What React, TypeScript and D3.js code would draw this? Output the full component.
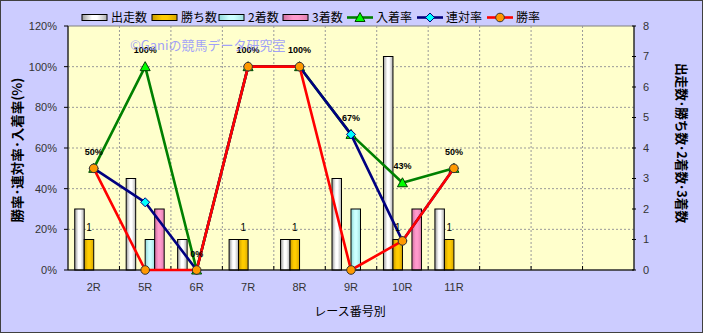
import React from "react";
import * as d3 from "d3";

const categories = ["2R", "5R", "6R", "7R", "8R", "9R", "10R", "11R", "", "", ""];
const starts = [2, 3, 1, 1, 1, 3, 7, 2];
const wins = [1, 0, 0, 1, 1, 0, 1, 1];
const seconds = [0, 1, 0, 0, 0, 2, 0, 0];
const thirds = [0, 2, 0, 0, 0, 0, 2, 0];
const placeRate = [50, 100, 0, 100, 100, 66.7, 42.9, 50];
const top2Rate = [50, 33.3, 0, 100, 100, 66.7, 14.3, 50];
const winRate = [50, 0, 0, 100, 100, 0, 14.3, 50];
const placeLabels = ["50%", "100%", "0%", "100%", "100%", "67%", "43%", "50%"];
const leftTicks = [0, 20, 40, 60, 80, 100, 120];
const rightTicks = [0, 1, 2, 3, 4, 5, 6, 7, 8];

const W = 703, H = 333;
const L = 68, R = 634, T = 26, B = 270;
const FONT = '"Liberation Sans", "Noto Sans CJK JP", sans-serif';
const JFONT = '"Noto Sans CJK JP", "Liberation Sans", sans-serif';

const barSeries = [
  { name: "出走数", data: starts, grad: "gWhite" },
  { name: "勝ち数", data: wins, grad: "gYellow" },
  { name: "2着数", data: seconds, grad: "gCyan" },
  { name: "3着数", data: thirds, grad: "gPink" },
];
const lineSeries = [
  { name: "入着率", data: placeRate, color: "#008000", marker: "tri" },
  { name: "連対率", data: top2Rate, color: "#000080", marker: "dia" },
  { name: "勝率", data: winRate, color: "#FF0000", marker: "circ" },
];

function Marker({ kind, x, y }: { kind: string; x: number; y: number }) {
  if (kind === "tri") {
    return <path d={`M${x},${y - 5} L${x + 5},${y + 4} L${x - 5},${y + 4} Z`} fill="#00FF00" stroke="#004000" strokeWidth={1} />;
  }
  if (kind === "dia") {
    return <path d={`M${x},${y - 4.5} L${x + 4.5},${y} L${x},${y + 4.5} L${x - 4.5},${y} Z`} fill="#00FFFF" stroke="#000080" strokeWidth={1} />;
  }
  return <circle cx={x} cy={y} r={4.3} fill="#FF9900" stroke="#333" strokeWidth={1} />;
}

export default function App() {
  const x = d3.scaleBand<number>().domain(d3.range(categories.length)).range([L, R]);
  const bw = x.bandwidth();
  const inner = d3.scaleBand<number>().domain(d3.range(4)).range([-19, 19]);
  const yL = d3.scaleLinear().domain([0, 120]).range([B, T]);
  const yR = d3.scaleLinear().domain([0, 8]).range([B, T]);
  const cx = (i: number) => (x(i) as number) + bw / 2;
  const line = d3.line<number>().x((_, i) => cx(i)).y((d) => yL(d));

  const legendBars = [82, 152, 219, 283];
  const legendLines = [347, 417, 487];

  return (
    <div style={{ position: "fixed", left: 0, top: 0 }}>
      <svg width={W} height={H} style={{ display: "block" }}>
        <defs>
          <linearGradient id="gWhite" x1="0" x2="1" y1="0" y2="0">
            <stop offset="0" stopColor="#9a9a9a" />
            <stop offset="0.4" stopColor="#ffffff" />
            <stop offset="0.6" stopColor="#ffffff" />
            <stop offset="1" stopColor="#b0b0b0" />
          </linearGradient>
          <linearGradient id="gYellow" x1="0" x2="1" y1="0" y2="0">
            <stop offset="0" stopColor="#c89b00" />
            <stop offset="0.4" stopColor="#ffcc00" />
            <stop offset="0.6" stopColor="#ffcc00" />
            <stop offset="1" stopColor="#d8a800" />
          </linearGradient>
          <linearGradient id="gCyan" x1="0" x2="1" y1="0" y2="0">
            <stop offset="0" stopColor="#8fd8d8" />
            <stop offset="0.4" stopColor="#ccffff" />
            <stop offset="0.6" stopColor="#ccffff" />
            <stop offset="1" stopColor="#a0e0e0" />
          </linearGradient>
          <linearGradient id="gPink" x1="0" x2="1" y1="0" y2="0">
            <stop offset="0" stopColor="#d070a0" />
            <stop offset="0.4" stopColor="#ff99cc" />
            <stop offset="0.6" stopColor="#ff99cc" />
            <stop offset="1" stopColor="#e080b0" />
          </linearGradient>
        </defs>
        <rect x={0.5} y={0.5} width={W - 1} height={H - 1} fill="#CCCCFF" stroke="#404040" strokeWidth={1} />
        <rect x={L} y={T} width={R - L} height={B - T} fill="#FFFFCC" stroke="#808080" strokeWidth={1} />

        {/* gridlines */}
        {leftTicks.slice(1, -1).map((t) => (
          <line key={"h" + t} x1={L} x2={R} y1={yL(t)} y2={yL(t)} stroke="#999" strokeDasharray="2,2" strokeWidth={1} />
        ))}
        {d3.range(1, categories.length).map((i) => (
          <line key={"v" + i} x1={x(i) as number} x2={x(i) as number} y1={T} y2={B} stroke="#999" strokeDasharray="2,2" strokeWidth={1} />
        ))}

        {/* bars */}
        {barSeries.map((s, si) =>
          s.data.map((v, i) =>
            v > 0 ? (
              <rect
                key={s.name + i}
                x={cx(i) + (inner(si) as number)}
                y={yR(v)}
                width={inner.bandwidth()}
                height={yR(0) - yR(v)}
                fill={`url(#${s.grad})`}
                stroke="#000"
                strokeWidth={1}
              />
            ) : null
          )
        )}

        {/* axes */}
        <line x1={L} x2={L} y1={T} y2={B} stroke="#000" />
        <line x1={R} x2={R} y1={T} y2={B} stroke="#000" />
        <line x1={L} x2={R} y1={B} y2={B} stroke="#000" />
        {leftTicks.map((t) => (
          <g key={"lt" + t}>
            <line x1={L - 4} x2={L} y1={yL(t)} y2={yL(t)} stroke="#000" />
            <text x={57} y={yL(t)} dy="0.35em" textAnchor="end" fontSize={11} fill="#333" fontFamily={FONT}>
              {t}%
            </text>
          </g>
        ))}
        {rightTicks.map((t) => (
          <g key={"rt" + t}>
            <line x1={R - 2} x2={R + 2} y1={yR(t)} y2={yR(t)} stroke="#000" />
            <text x={643} y={yR(t)} dy="0.35em" textAnchor="start" fontSize={11} fill="#333" fontFamily={FONT}>
              {t}
            </text>
          </g>
        ))}
        {d3.range(1, categories.length).map((i) => (
          <line key={"xt" + i} x1={x(i) as number} x2={x(i) as number} y1={B - 4} y2={B} stroke="#000" />
        ))}
        {categories.map((c, i) => (
          <text key={"xl" + i} x={cx(i)} y={287} dy="0.35em" textAnchor="middle" fontSize={11} fill="#333" fontFamily={FONT}>
            {c}
          </text>
        ))}

        {/* lines */}
        {lineSeries.map((s) => (
          <g key={s.name}>
            <path d={line(s.data) as string} fill="none" stroke={s.color} strokeWidth={2.6} strokeLinejoin="round" />
            {s.data.map((v, i) => (
              <Marker key={i} kind={s.marker} x={cx(i)} y={yL(v)} />
            ))}
          </g>
        ))}

        {/* data labels */}
        {placeRate.map((v, i) => (
          <text key={"pl" + i} x={cx(i)} y={yL(v) - 13.5} textAnchor="middle" fontSize={9} fontWeight="bold" fill="#000" fontFamily={FONT}>
            {placeLabels[i]}
          </text>
        ))}
        {wins.map((v, i) =>
          v > 0 ? (
            <text key={"wl" + i} x={cx(i) + (inner(1) as number) + inner.bandwidth() / 2} y={yR(v) - 8.5} textAnchor="middle" fontSize={10} fill="#000" fontFamily={FONT}>
              {v}
            </text>
          ) : null
        )}

        {/* watermark */}
        <text x={130} y={50} fontSize={13} fill="#9090FF" fillOpacity={0.85} fontFamily={JFONT}>
          ©Ganiの競馬データ研究室
        </text>

        {/* legend */}
        {barSeries.map((s, k) => (
          <g key={"lg" + s.name}>
            <rect x={legendBars[k]} y={14.5} width={25} height={6} fill={`url(#${s.grad})`} stroke="#000" strokeWidth={1} />
            <text x={legendBars[k] + 29} y={18} dy="0.35em" fontSize={12} fill="#000" fontFamily={JFONT}>
              {s.name}
            </text>
          </g>
        ))}
        {lineSeries.map((s, k) => (
          <g key={"ll" + s.name}>
            <line x1={legendLines[k]} x2={legendLines[k] + 26} y1={17.5} y2={17.5} stroke={s.color} strokeWidth={2.6} />
            <Marker kind={s.marker} x={legendLines[k] + 13} y={17.5} />
            <text x={legendLines[k] + 29} y={18} dy="0.35em" fontSize={12} fill="#000" fontFamily={JFONT}>
              {s.name}
            </text>
          </g>
        ))}

        {/* axis titles */}
        <text transform="translate(17,150) rotate(-90)" textAnchor="middle" dy="0.35em" fontSize={13} fontWeight="bold" fill="#000" fontFamily={JFONT} textLength={145} lengthAdjust="spacingAndGlyphs">
          勝率･連対率･入着率(%)
        </text>
        <text transform="translate(682,143) rotate(90)" textAnchor="middle" dy="0.35em" fontSize={13} fontWeight="bold" fill="#000" fontFamily={JFONT} textLength={160} lengthAdjust="spacingAndGlyphs">
          出走数･勝ち数･2着数･3着数
        </text>
        <text x={350} y={312} textAnchor="middle" dy="0.35em" fontSize={12} fill="#000" fontFamily={JFONT}>
          レース番号別
        </text>
      </svg>
    </div>
  );
}
